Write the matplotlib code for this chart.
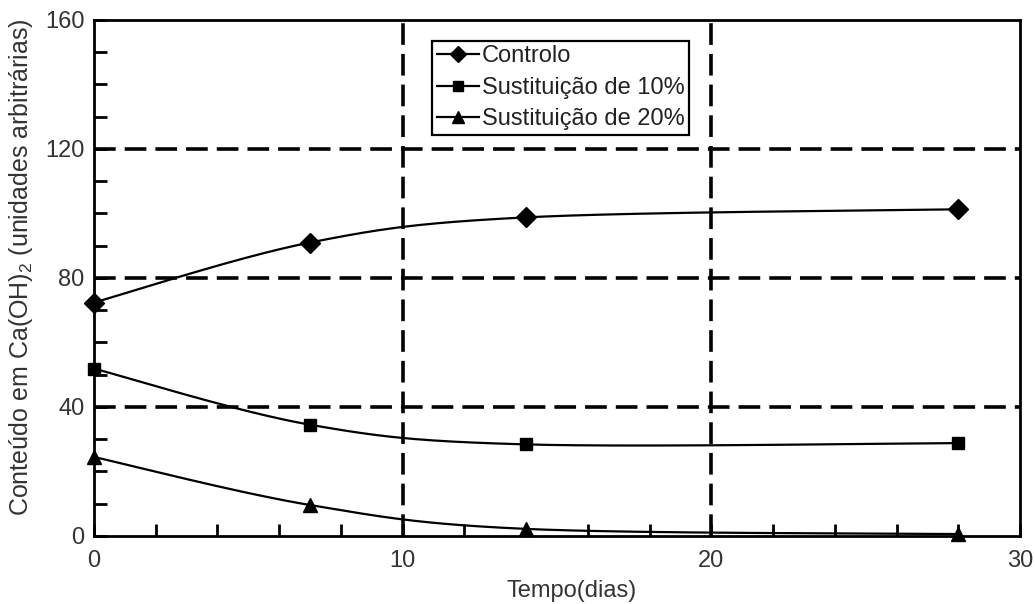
import numpy as np
import matplotlib
matplotlib.use("Agg")
import matplotlib.pyplot as plt
from matplotlib.ticker import MultipleLocator

plt.rcParams['font.family'] = ['Liberation Sans', 'DejaVu Sans']
plt.rcParams['mathtext.fontset'] = 'custom'
plt.rcParams['mathtext.rm'] = 'Liberation Sans'

days = [0, 7, 14, 28]
controlo = [72.4, 91.0, 98.8, 101.3]
sub10 = [51.9, 34.5, 28.4, 28.8]
sub20 = [24.5, 9.6, 2.2, 0.6]
labels = ["Controlo", "Sustituição de 10%", "Sustituição de 20%"]
markers = ["D", "s", "^"]
msizes = [10, 9, 10]
leg_msizes = [8.5, 6.5, 8.5]


def smooth(x, y, npts=60):
    """Excel-style smoothed line (Bezier with 1/6 tangents) through the points."""
    P = np.column_stack([np.asarray(x, float), np.asarray(y, float)])
    n = len(P)
    t = np.linspace(0, 1, npts)[:, None]
    segs = []
    for i in range(n - 1):
        p0 = P[i - 1] if i > 0 else P[i]
        p3 = P[i + 2] if i + 2 < n else P[i + 1]
        b0 = P[i]
        b1 = P[i] + (P[i + 1] - p0) / 6
        b2 = P[i + 1] - (p3 - P[i]) / 6
        b3 = P[i + 1]
        c = (1 - t) ** 3 * b0 + 3 * t * (1 - t) ** 2 * b1 + 3 * t ** 2 * (1 - t) * b2 + t ** 3 * b3
        segs.append(c)
    c = np.vstack(segs)
    return c[:, 0], c[:, 1]


fig = plt.figure(figsize=(10.35, 6.04), dpi=100)
ax = fig.add_axes([0.0908, 0.1126, 0.8947, 0.8543])
ax.set_xlim(0, 30)
ax.set_ylim(0, 160)

for v in [10, 20]:
    ax.axvline(v, color='black', lw=2.6, dashes=(6, 2.5), zorder=1)
for v in [40, 80, 120]:
    ax.axhline(v, color='black', lw=2.6, dashes=(6, 2.5), zorder=1)

for ys, lab, mk, ms in zip([controlo, sub10, sub20], labels, markers, msizes):
    sx, sy = smooth(days, ys)
    ax.plot(sx, sy, color='black', lw=1.6, zorder=3)
    ax.plot(days, ys, linestyle='none', marker=mk, ms=ms, color='black', clip_on=False, zorder=4)

handles = [plt.Line2D([], [], color='black', lw=1.6, marker=mk, ms=ms) for mk, ms in zip(markers, leg_msizes)]
leg = ax.legend(handles, labels, loc='upper left', bbox_to_anchor=(0.365, 0.96), borderaxespad=0,
                fontsize=17, handlelength=1.8, handletextpad=0.1, labelspacing=0.4,
                borderpad=0.2, fancybox=False, edgecolor='black', framealpha=1, labelcolor='#222222')
leg.get_frame().set_linewidth(1.6)
leg.set_zorder(5)

ax.xaxis.set_major_locator(MultipleLocator(10))
ax.xaxis.set_minor_locator(MultipleLocator(2))
ax.yaxis.set_major_locator(MultipleLocator(40))
ax.yaxis.set_minor_locator(MultipleLocator(10))
ax.tick_params(which='both', direction='in', width=2, length=9, labelsize=17, colors='black',
               labelcolor='#333333')
ax.tick_params(axis='x', which='both', top=False, pad=10)
ax.tick_params(axis='y', which='both', right=False, pad=7)
for s in ax.spines.values():
    s.set_linewidth(2)

ax.set_xlabel("Tempo(dias)", fontsize=17, color='#333333')
ax.xaxis.set_label_coords(0.516, -0.085)
ax.set_ylabel("Conteúdo em Ca(OH)$_2$ (unidades arbitrárias)", fontsize=18, color='#333333')
ax.yaxis.set_label_coords(-0.064, 0.52)

fig.savefig("out.png", dpi=100)
